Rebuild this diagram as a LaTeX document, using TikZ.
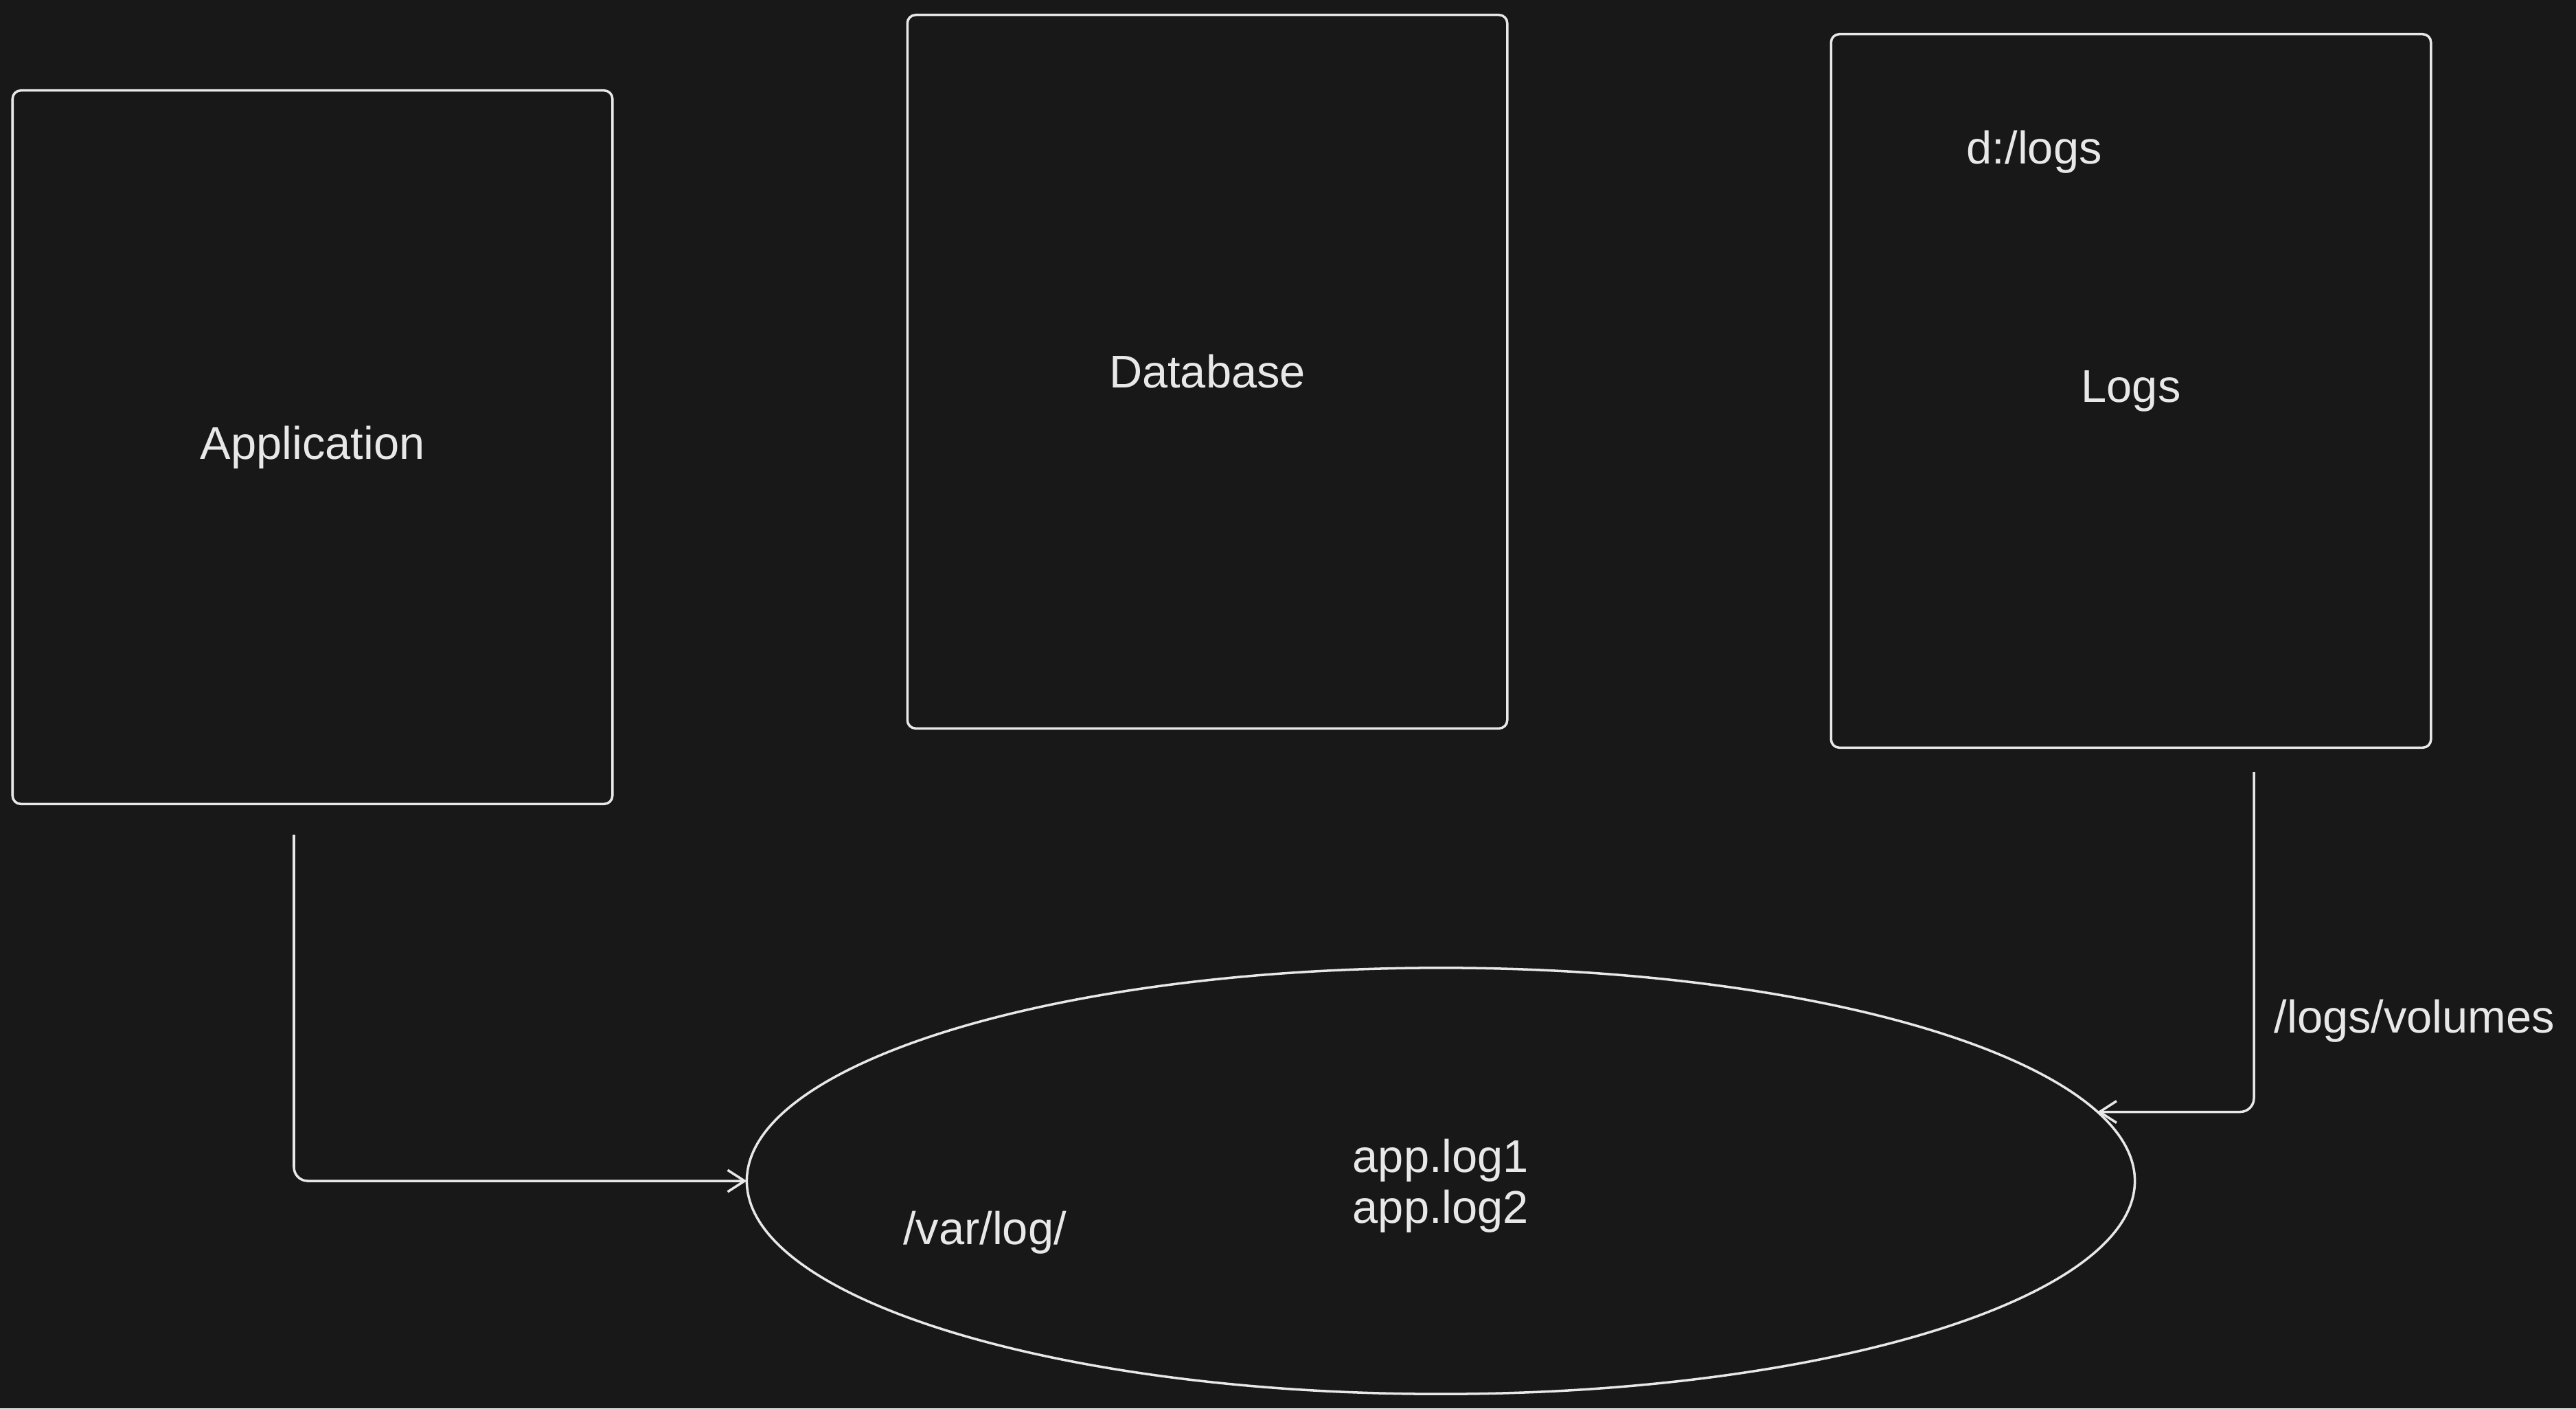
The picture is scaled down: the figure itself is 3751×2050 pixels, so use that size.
\documentclass[tikz,border=0pt]{standalone}
\usepackage{fontspec}
\setmainfont{Liberation Sans}
\usepackage{xcolor}
\usetikzlibrary{shapes.geometric,arrows.meta}
\definecolor{bg}{HTML}{181818}
\definecolor{ln}{HTML}{E8E8E8}

\begin{document}
\begin{tikzpicture}[x=0.01cm,y=-0.01cm,
  box/.style={draw=ln,line width=1pt,rounded corners=0.12cm,minimum width=8.73cm,minimum height=10.38cm,text=ln,font=\fontsize{19}{21}\selectfont},
  lbl/.style={text=ln,font=\fontsize{19}{21}\selectfont,inner sep=0pt},
  link/.style={draw=ln,line width=1pt,rounded corners=0.2cm,-{Straight Barb[length=7pt,width=9pt]}}]
  \fill [bg] (0,0) rectangle (3751,2050);
  \useasboundingbox (0,0) rectangle (3751,2050); % whole page, margins included
  \node [box] (app) at (455,651) {Application};
  \node [box] (db) at (1758,541) {Database};
  \node [box] (logs) at (3103,569) {Logs};
  \node [lbl,anchor=west] (logspath) at (2863,221) {d:/logs};
  \node [ellipse,draw=ln,line width=1pt,minimum width=20.2cm,minimum height=6.2cm,outer sep=0pt,lbl,align=left,text depth=-0.1cm] (vol) at (2098,1719) {app.log1\\app.log2};
  \node [lbl] (varlog) at (1434,1794) {/var/log/};
  \node [lbl,anchor=west] (vollbl) at (3311,1486) {/logs/volumes};
  \coordinate (appout) at (428,1215);
  \coordinate (logsout) at (3282,1124);
  \draw [link] (appout) |- (vol.west);
  \draw [link] (logsout) |- (vol.6.7);
\end{tikzpicture}
\end{document}
